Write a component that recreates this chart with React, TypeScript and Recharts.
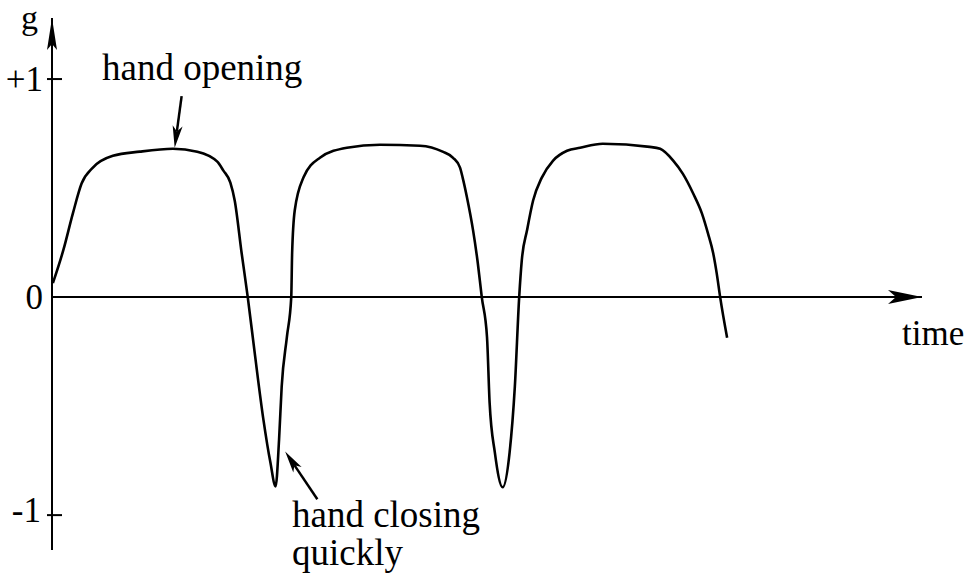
import React from "react";
import {
  LineChart,
  Line,
  XAxis,
  YAxis,
  ReferenceLine,
  ReferenceDot,
} from "recharts";

// sketch of grip signal g over time
const time = [
  0.01, 0.13, 0.24, 0.34, 0.47, 0.7, 1.01, 1.39, 1.67, 1.9, 1.97, 2.05, 2.1,
  2.18, 2.25, 2.33, 2.43, 2.51, 2.57, 2.61, 2.64, 2.7, 2.75, 2.76, 2.79, 2.89,
  3.08, 3.39, 3.77, 4.23, 4.49, 4.61, 4.69, 4.72, 4.77, 4.84, 4.89, 4.94, 5.0,
  5.03, 5.09, 5.18, 5.26, 5.32, 5.37, 5.4, 5.46, 5.53, 5.63, 5.76, 5.92, 6.07,
  6.33, 6.87, 6.99, 7.14, 7.25, 7.37, 7.47, 7.54, 7.6, 7.64, 7.68, 7.76,
];
const gValues = [
  0.064, 0.215, 0.384, 0.521, 0.594, 0.648, 0.667, 0.68, 0.667, 0.621, 0.58,
  0.525, 0.443, 0.201, 0, -0.256, -0.562, -0.758, -0.868, -0.653, -0.411,
  -0.183, 0, 0.201, 0.397, 0.548, 0.639, 0.685, 0.699, 0.694, 0.667, 0.639,
  0.594, 0.548, 0.457, 0.306, 0.169, 0, -0.183, -0.484, -0.712, -0.872, -0.712,
  -0.411, 0, 0.169, 0.306, 0.443, 0.548, 0.626, 0.671, 0.685, 0.703, 0.689,
  0.68, 0.626, 0.566, 0.475, 0.384, 0.292, 0.201, 0.11, 0, -0.187,
];
const yTicks = [-1, 0, 1];
const yTickLabels: Record<number, string> = { 1: "+1", 0: "0", "-1": "-1" };

const data = time.map((t, i) => ({ time: t, g: gValues[i] }));

const FONT = "'Liberation Serif', 'DejaVu Serif', serif";
const AXIS_X = 52;

function YTick(props: any) {
  const { y, payload } = props;
  const v = payload.value;
  const label = yTickLabels[v];
  const dy = v === -1 ? 7 : 12;
  return (
    <g>
      {v !== 0 && (
        <line
          x1={AXIS_X - 5}
          x2={AXIS_X + 10}
          y1={y}
          y2={y}
          stroke="#000"
          strokeWidth={2}
        />
      )}
      <text
        x={v === -1 ? AXIS_X - 11 : AXIS_X - 9}
        y={y + dy}
        textAnchor="end"
        fontFamily={FONT}
        fontSize={35}
        fill="#000"
      >
        {label}
      </text>
    </g>
  );
}

function ArrowLine(props: any) {
  const { x1, y1, x2, y2 } = props;
  const ang = Math.atan2(y2 - y1, x2 - x1);
  const len = 22;
  const half = 5;
  const bx = x2 - len * Math.cos(ang);
  const by = y2 - len * Math.sin(ang);
  const nx = x2 - len * 0.75 * Math.cos(ang);
  const ny = y2 - len * 0.75 * Math.sin(ang);
  const px = -Math.sin(ang) * half;
  const py = Math.cos(ang) * half;
  return (
    <g>
      <line x1={x1} y1={y1} x2={nx} y2={ny} stroke="#000" strokeWidth={2.5} />
      <polygon
        points={`${x2},${y2} ${bx + px},${by + py} ${nx},${ny} ${bx - px},${by - py}`}
        fill="#000"
      />
    </g>
  );
}

export default function App() {
  return (
    <div style={{ position: "absolute", left: 0, top: 0, background: "#fff" }}>
      <LineChart
        width={970}
        height={574}
        data={data}
        margin={{ top: 18, right: 48, bottom: 24, left: 0 }}
      >
        <XAxis
          dataKey="time"
          type="number"
          domain={[0, 10]}
          allowDataOverflow
          hide
        />
        <YAxis
          type="number"
          domain={[-1.16, 1.28]}
          allowDataOverflow
          ticks={yTicks}
          interval={0}
          width={52}
          tickLine={false}
          axisLine={{ stroke: "#000", strokeWidth: 2 }}
          tick={<YTick />}
        />
        <ReferenceLine y={0} stroke="#000" strokeWidth={2} />
        <ReferenceDot
          x={0}
          y={1.28}
          isFront
          shape={(p: any) => (
            <polygon
              points={`${p.cx},${p.cy} ${p.cx + 5},${p.cy + 32} ${p.cx},${p.cy + 26} ${p.cx - 5},${p.cy + 32}`}
              fill="#000"
            />
          )}
        />
        <ReferenceDot
          x={10}
          y={0}
          isFront
          shape={(p: any) => (
            <polygon
              points={`${p.cx},${p.cy} ${p.cx - 34},${p.cy - 7} ${p.cx - 26},${p.cy} ${p.cx - 34},${p.cy + 7}`}
              fill="#000"
            />
          )}
        />
        <Line
          type="monotone"
          dataKey="g"
          stroke="#000"
          strokeWidth={2.6}
          dot={false}
          isAnimationActive={false}
        />
        <ReferenceLine
          segment={[
            { x: 1.49, y: 0.922 },
            { x: 1.41, y: 0.685 },
          ]}
          shape={<ArrowLine />}
        />
        <ReferenceLine
          segment={[
            { x: 3.05, y: -0.927 },
            { x: 2.68, y: -0.708 },
          ]}
          shape={<ArrowLine />}
        />
        <text x={21} y={29} fontFamily={FONT} fontSize={34} fill="#000">
          g
        </text>
        <text x={102} y={80} fontFamily={FONT} fontSize={37} fill="#000">
          hand opening
        </text>
        <text x={292} y={527} fontFamily={FONT} fontSize={37} fill="#000">
          hand closing
        </text>
        <text x={292} y={565} fontFamily={FONT} fontSize={37} fill="#000">
          quickly
        </text>
        <text x={902} y={345} fontFamily={FONT} fontSize={35} fill="#000">
          time
        </text>
      </LineChart>
    </div>
  );
}
